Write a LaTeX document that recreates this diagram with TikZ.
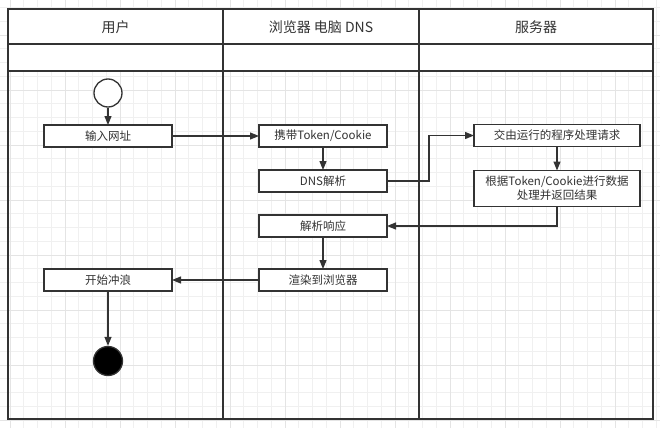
\documentclass[tikz,border=0pt]{standalone}
\usepackage{fontspec}
\setmainfont{Noto Sans CJK SC}
\usetikzlibrary{arrows.meta,positioning}

\definecolor{linegray}{HTML}{333333}
\definecolor{gridminor}{HTML}{F0F0F0}
\definecolor{gridmajor}{HTML}{E4E4E4}

\tikzset{
    lane/.style={draw=linegray,line width=1.3pt},
    laneTitle/.style={font=\fontsize{14}{16}\selectfont,text=linegray},
    stepbox/.style={draw=linegray,line width=1.3pt,fill=white,minimum width=128pt,minimum height=22pt,inner sep=1pt,outer sep=0pt,font=\fontsize{11.5}{14}\selectfont,text=linegray},
    startnode/.style={circle,draw=linegray,line width=1.3pt,fill=white,minimum size=28pt,inner sep=0pt},
    endnode/.style={circle,draw=linegray,line width=1.3pt,fill=black,minimum size=29pt,inner sep=0pt},
    flow/.style={draw=linegray,line width=1.2pt,-{Triangle[length=9pt,width=7pt]}}
}

\begin{document}
\begin{tikzpicture}[x=1pt,y=-1pt]
            \useasboundingbox (0,0) rectangle (660,428);
            \fill[white] (0,0) rectangle (660,428);
            \foreach \gx in {-3.75,10,...,660} \draw[gridminor,line width=0.8pt] (\gx,0) -- (\gx,428);
            \foreach \gy in {7.5,21.25,...,428} \draw[gridminor,line width=0.8pt] (0,\gy) -- (660,\gy);
            \foreach \gx in {10,65,...,660} \draw[gridmajor,line width=0.9pt] (\gx,0) -- (\gx,428);
            \foreach \gy in {35,90,...,428} \draw[gridmajor,line width=0.9pt] (0,\gy) -- (660,\gy);

            \fill[white] (8,9) rectangle (653,71);
            \draw[lane] (8,9) rectangle (653,419);
            \draw[lane] (8,44) -- (653,44);
            \draw[lane] (8,71) -- (653,71);
            \draw[lane] (223,9) -- (223,419);
            \draw[lane,line width=2.6pt] (419,9) -- (419,419);

            \node[laneTitle] (userTitle) at (115.5,27) {用户};
            \node[laneTitle] (browserTitle) at (321,27) {浏览器 电脑 DNS};
            \node[laneTitle] (serverTitle) at (536,27) {服务器};

            \node[startnode] (start) at (108,93) {};
            \node[stepbox] (input) at (108,136) {输入网址};
            \node[stepbox] (carry) at (323,136) {携带Token/Cookie};
            \node[stepbox,below=23pt of carry] (dns) {DNS解析};
            \node[stepbox,below=23pt of dns] (resp) {解析响应};
            \node[stepbox,below=32pt of resp] (render) {渲染到浏览器};
            \node[stepbox] (surf) at (render -| input) {开始冲浪};
            \node[endnode] (finish) at (108,361) {};
            \node[stepbox,minimum width=166pt] (exec) at (557,135.5) {交由运行的程序处理请求};
            \node[stepbox,minimum width=166pt,minimum height=36pt,align=center,below=24pt of exec] (handle) {根据Token/Cookie进行数据\\处理并返回结果};

            \coordinate (bend) at (429,0);

            \draw[flow] (start) -- (input);
            \draw[flow] (input) -- (carry);
            \draw[flow] (carry) -- (dns);
            \draw[flow] (dns.east) -- (dns.east -| bend) |- (exec.west);
            \draw[flow] (exec) -- (handle);
            \draw[flow] (handle.south) |- (resp.east);
            \draw[flow] (resp) -- (render);
            \draw[flow] (render) -- (surf);
            \draw[flow] (surf) -- (finish);
\end{tikzpicture}
\end{document}
